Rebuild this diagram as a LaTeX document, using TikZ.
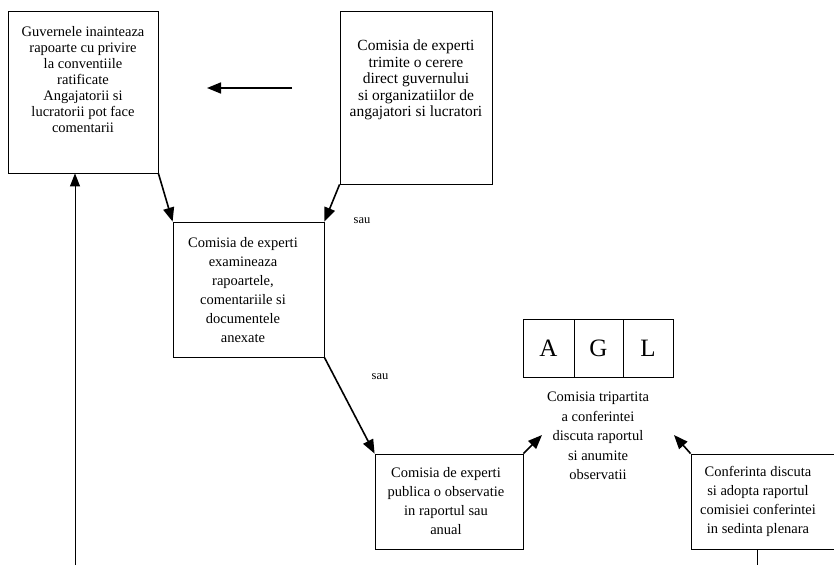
\documentclass[tikz,border=0pt]{standalone}
\usepackage{fontspec}
\setmainfont{Liberation Serif}
\usetikzlibrary{arrows.meta}
\begin{document}
\begin{tikzpicture}[x=1pt,y=-1pt,
  box/.style={draw, line width=0.8pt, inner sep=0pt, minimum width=#1},
  txt/.style={align=center, inner sep=0pt, font=\fontsize{14.5}{19}\selectfont},
  arr/.style={line width=1.6pt, -{Triangle[length=14pt,width=11pt]}},
  thinarr/.style={line width=1pt, -{Triangle[length=13pt,width=10pt]}}]
\useasboundingbox (0,0) rectangle (834,565);
\clip (0,0) rectangle (834,565);
% boxes
\node[box=150pt, minimum height=162pt] (b1) at (83,92) {};
\node[txt, font=\fontsize{14.5}{16}\selectfont] (t1) at (83,80) {Guvernele inainteaza\\rapoarte cu privire\\la conventiile\\ratificate\\Angajatorii si\\lucratorii pot face\\comentarii};
\node[box=152pt, minimum height=173pt] (b2) at (416,97.5) {};
\node[txt, font=\fontsize{15.5}{16.5}\selectfont] (t2) at (416,80) {Comisia de experti\\trimite o cerere\\direct guvernului\\si organizatiilor de\\angajatori si lucratori};
\node[box=151pt, minimum height=135pt] (b3) at (248.5,289.5) {};
\node[txt] (t3) at (243,290) {Comisia de experti\\examineaza\\rapoartele,\\comentariile si\\documentele\\anexate};
\node[box=148pt, minimum height=95pt] (b4) at (449,501.5) {};
\node[txt] (t4) at (446,501) {Comisia de experti\\publica o observatie\\in raportul sau\\anual};
\node[box=170pt, minimum height=95pt] (b5) at (776,501.5) {};
\node[txt] (t5) at (758,501) {Conferinta discuta\\si adopta raportul\\comisiei conferintei\\in sedinta plenara};
% AGL
\node[box=51pt, minimum height=58pt, font=\fontsize{25}{25}\selectfont] (ga) at (548.5,348) {A};
\node[box=49pt, minimum height=58pt, font=\fontsize{25}{25}\selectfont] (gg) at (598.5,348) {G};
\node[box=50pt, minimum height=58pt, font=\fontsize{25}{25}\selectfont] (gl) at (648,348) {L};
\node[txt, font=\fontsize{14.5}{19.5}\selectfont] (tt) at (598,436) {Comisia tripartita\\a conferintei\\discuta raportul\\si anumite\\observatii};
% sau labels
\node[font=\fontsize{12.5}{14}\selectfont, inner sep=0pt] (s1) at (362,221) {sau};
\node[font=\fontsize{12.5}{14}\selectfont, inner sep=0pt] (s2) at (380,377) {sau};
% connectors
\coordinate (h1) at (292,88);
\coordinate (h2) at (207,88);
\draw[arr] (h1) -- (h2);
\draw[arr] (b1.south east) -- (b3.north west);
\draw[arr] (b2.south west) -- (b3.north east);
\draw[arr] (b3.south east) -- (b4.north west);
\coordinate (p4) at (542,435);
\draw[arr] (b4.north east) -- (p4);
\coordinate (p5) at (674,435);
\draw[arr] (b5.north west) -- (p5);
\coordinate (v0) at (75,565);
\draw[thinarr] (v0) -- (v0 |- b1.south);
\coordinate (v5) at (757,565);
\draw[line width=0.9pt] (v5 |- b5.south) -- (v5);
\end{tikzpicture}
\end{document}
